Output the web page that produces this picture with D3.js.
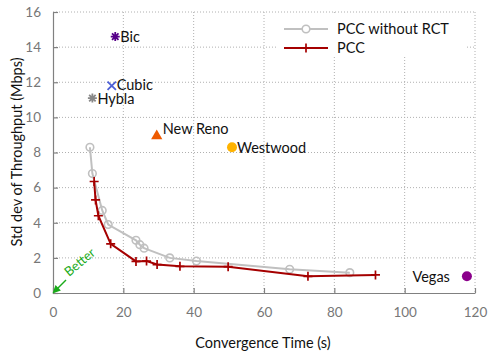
<!DOCTYPE html>
<html><head><meta charset="utf-8">
<script src="https://cdn.jsdelivr.net/npm/d3@7"></script>
<style>body{margin:0;background:#fff}svg{display:block;font-family:Lato,"Open Sans",sans-serif}</style>
</head><body><svg id="c" width="488" height="358"></svg>
<script>
const xTicks=[0,20,40,60,80,100,120];
const yTicks=[0,2,4,6,8,10,12,14,16];
const noRctX=[10.5,11.2,14.0,15.7,23.6,24.7,25.9,33.2,40.8,67.3,84.4];
const noRctY=[8.3,6.8,4.7,3.9,3.0,2.75,2.55,2.0,1.82,1.35,1.16];
const pccX=[11.7,12.1,12.9,16.4,23.6,26.6,29.6,36.1,49.8,72.5,91.7];
const pccY=[6.35,5.3,4.4,2.8,1.8,1.82,1.62,1.52,1.5,0.95,1.03];
const protoNames=["Bic","Cubic","Hybla","New Reno","Westwood","Vegas"];
const protoX=[17.7,16.7,11.2,29.5,50.9,117.7];
const protoY=[14.6,11.8,11.1,9.0,8.3,0.95];
const protoColors=["#560089","#4d5fd6","#888888","#ee5a00","#ffb300","#8b008b"];
const protoShapes=["asterisk","cross","asterisk","triangle","circle","circle"];
const seriesNames=["PCC without RCT","PCC"];

const svg=d3.select("#c");
const m={l:53,r:475,t:12,b:293};
const x=d3.scaleLinear().domain([0,120]).range([m.l,m.r]);
const y=d3.scaleLinear().domain([0,16]).range([m.b,m.t]);
const grid="#b0b0b0";

// grid
const g=svg.append("g");
yTicks.slice(1).forEach(v=>g.append("line").attr("x1",m.l).attr("x2",m.r).attr("y1",y(v)).attr("y2",y(v))
  .attr("stroke",grid).attr("stroke-width",1).attr("stroke-dasharray","1,2"));
xTicks.slice(1).forEach(v=>g.append("line").attr("x1",x(v)).attr("x2",x(v)).attr("y1",m.t).attr("y2",m.b)
  .attr("stroke",grid).attr("stroke-width",1).attr("stroke-dasharray","1,2"));

// axes
const xa=svg.append("g").attr("transform",`translate(0,${m.b})`)
  .call(d3.axisBottom(x).tickValues(xTicks).tickSize(-5).tickPadding(14).tickSizeOuter(0));
const ya=svg.append("g").attr("transform",`translate(${m.l},0)`)
  .call(d3.axisLeft(y).tickValues(yTicks).tickSize(-5).tickPadding(12).tickSizeOuter(0));
[xa,ya].forEach(a=>{a.select(".domain").attr("stroke","#808080").attr("stroke-width",1.2);
  a.selectAll(".tick line").attr("stroke","#808080").attr("stroke-width",1.2);
  a.selectAll("text").attr("fill","#777").attr("font-size",13.5).attr("font-family","Lato,sans-serif");});

// titles
svg.append("text").attr("x",263).attr("y",348).attr("text-anchor","middle").attr("font-size",14.5).attr("fill","#111").text("Convergence Time (s)");
svg.append("text").attr("transform","translate(22,152) rotate(-90)").attr("text-anchor","middle").attr("font-size",14.5).attr("fill","#111").text("Std dev of Throughput (Mbps)");

// series
const line=d3.line().x(d=>x(d[0])).y(d=>y(d[1]));
const noRct=noRctX.map((v,i)=>[v,noRctY[i]]);
const pcc=pccX.map((v,i)=>[v,pccY[i]]);
svg.append("path").datum(noRct).attr("d",line).attr("fill","none").attr("stroke","#c0c0c0").attr("stroke-width",2);
svg.selectAll(".c").data(noRct).enter().append("circle").attr("cx",d=>x(d[0])).attr("cy",d=>y(d[1])).attr("r",3.8)
  .attr("fill","none").attr("stroke","#c0c0c0").attr("stroke-width",1.6);
svg.append("path").datum(pcc).attr("d",line).attr("fill","none").attr("stroke","#a50000").attr("stroke-width",2);
const plus=(sel,cx,cy,s,col)=>{sel.append("path").attr("d",`M${cx-s},${cy}H${cx+s}M${cx},${cy-s}V${cy+s}`).attr("stroke",col).attr("stroke-width",1.7).attr("fill","none");};
pcc.forEach(d=>plus(svg,x(d[0]),y(d[1]),4.5,"#a50000"));

// protocols
protoNames.forEach((n,i)=>{
  const cx=x(protoX[i]),cy=y(protoY[i]),col=protoColors[i],sh=protoShapes[i];
  if(sh==="asterisk"){
    const s=4.5;
    svg.append("path").attr("d",`M${cx-s},${cy}H${cx+s}M${cx},${cy-s}V${cy+s}M${cx-s*0.72},${cy-s*0.72}L${cx+s*0.72},${cy+s*0.72}M${cx-s*0.72},${cy+s*0.72}L${cx+s*0.72},${cy-s*0.72}`)
      .attr("stroke",col).attr("stroke-width",1.8);
  } else if(sh==="cross"){
    const s=4.2;
    svg.append("path").attr("d",`M${cx-s},${cy-s}L${cx+s},${cy+s}M${cx-s},${cy+s}L${cx+s},${cy-s}`).attr("stroke",col).attr("stroke-width",1.8);
  } else if(sh==="triangle"){
    svg.append("path").attr("d",d3.symbol().type(d3.symbolTriangle).size(55)()).attr("transform",`translate(${cx},${cy+1})`).attr("fill",col);
  } else {
    svg.append("circle").attr("cx",cx).attr("cy",cy).attr("r",5).attr("fill",col);
  }
});
const lab=(t,xx,yy,anchor)=>svg.append("text").attr("x",xx).attr("y",yy).attr("font-size",14.5).attr("fill","#111").attr("text-anchor",anchor||"start").text(t);
lab(protoNames[0],x(protoX[0])+5,y(protoY[0])+5.5);
lab(protoNames[1],x(protoX[1])+5,y(protoY[1])+4);
lab(protoNames[2],x(protoX[2])+5,y(protoY[2])+6);
lab(protoNames[3],x(protoX[3])+6,y(protoY[3])-0.5);
lab(protoNames[4],x(protoX[4])+5,y(protoY[4])+5.5);
lab(protoNames[5],x(protoX[5])-17,y(protoY[5])+5.5,"end");

// Better arrow
const gc="#1aab1a";
svg.append("line").attr("x1",66).attr("y1",280).attr("x2",57.5).attr("y2",288.5).attr("stroke",gc).attr("stroke-width",1.5);
svg.append("path").attr("d","M52.5,293.5 L55.5,285.1 L60.9,290.5 Z").attr("fill",gc);
svg.append("text").attr("transform","translate(69,277) rotate(-40)").attr("font-size",13).attr("fill",gc).text("Better");

// legend
const lg=svg.append("g");
lg.append("rect").attr("x",277).attr("y",15).attr("width",190).attr("height",42).attr("fill","#fff");
lg.append("line").attr("x1",284).attr("x2",328).attr("y1",29).attr("y2",29).attr("stroke","#c0c0c0").attr("stroke-width",2);
lg.append("circle").attr("cx",306).attr("cy",29).attr("r",3.8).attr("fill","#fff").attr("stroke","#c0c0c0").attr("stroke-width",1.6);
lg.append("line").attr("x1",284).attr("x2",328).attr("y1",48).attr("y2",48).attr("stroke","#a50000").attr("stroke-width",2);
plus(lg,306,48,4.5,"#a50000");
lg.append("text").attr("x",337).attr("y",34).attr("font-size",14.5).attr("fill","#111").text(seriesNames[0]);
lg.append("text").attr("x",337).attr("y",53).attr("font-size",14.5).attr("fill","#111").text(seriesNames[1]);
</script></body></html>
